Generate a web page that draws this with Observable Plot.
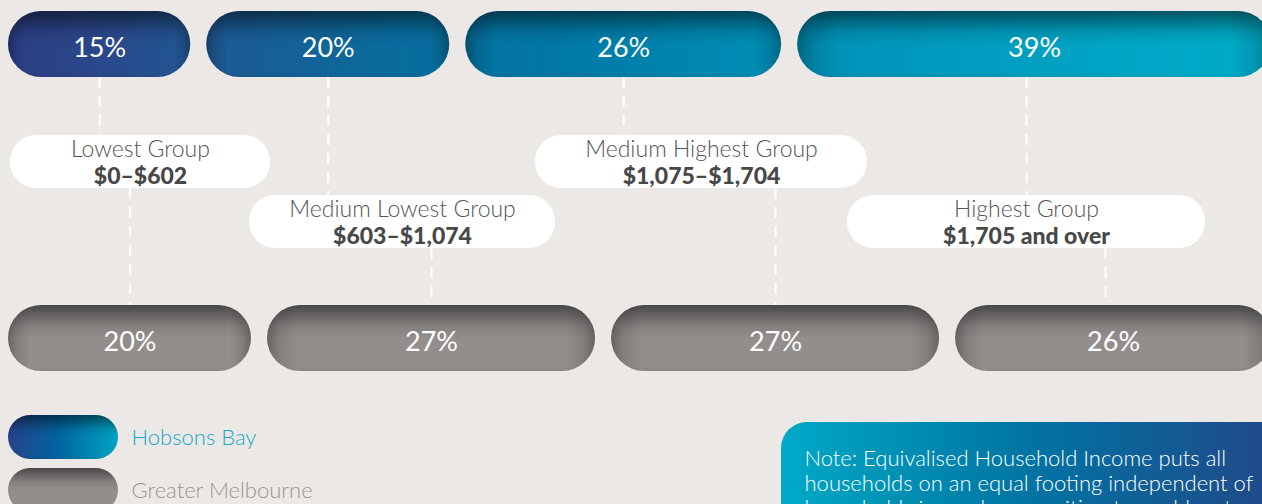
<!DOCTYPE html>
<html>
<head>
<meta charset="utf-8">
<script src="https://cdn.jsdelivr.net/npm/d3@7"></script>
<script src="https://cdn.jsdelivr.net/npm/@observablehq/plot@0.6"></script>
<style>
  html, body { margin: 0; padding: 0; background: #ece8e5; }
  #chart svg { display: block; }
</style>
</head>
<body>
<div id="chart"></div>
<script>
// ---- Data ----
const groups = ["Lowest Group", "Medium Lowest Group", "Medium Highest Group", "Highest Group"];
const ranges = ["$0–$602", "$603–$1,074", "$1,075–$1,704", "$1,705 and over"];
const hobsonsBay = [15, 20, 26, 39];
const greaterMelbourne = [20, 27, 27, 26];
const seriesNames = ["Hobsons Bay", "Greater Melbourne"];
const noteLines = [
  "Note: Equivalised Household Income puts all",
  "households on an equal footing independent of",
  "household size and composition to enable a true"
];

// ---- Layout (pixels) ----
const W = 1262, H = 504;
const PPU = 12.15;        // pixels per percentage point
const LEFT = 8;           // left start of rows
const GAP_PX = 16;        // gap between pills
const rowY = {top: [11, 77], bottom: [305, 371]};
const boxRowY = [[135, 188], [195, 248]];
const boxX = [[10, 270], [249, 555], [535, 867], [847, 1205]];
const u = px => (px - LEFT) / PPU;   // pixel -> x-scale units
const gapU = GAP_PX / PPU;
const connNudge = [0, 0, 0, -8];      // small connector offset (px) as in original

function rowData(values, series) {
  let cum = 0;
  return values.map((v, i) => {
    const x1 = cum + i * gapU;
    cum += v;
    return {series, group: groups[i], value: v, i, x1, x2: x1 + v};
  });
}
const topRow = rowData(hobsonsBay, seriesNames[0]);
const botRow = rowData(greaterMelbourne, seriesNames[1]);
const boxes = groups.map((g, i) => ({
  group: g, range: ranges[i], i,
  x1: u(boxX[i][0]), x2: u(boxX[i][1]),
  y1: boxRowY[i % 2][0], y2: boxRowY[i % 2][1]
}));
const mid = d => (d.x1 + d.x2) / 2;

const FONT = "Lato, 'Open Sans', sans-serif";

const plot = Plot.plot({
  width: W, height: H,
  margin: 0,
  x: {domain: [u(0), u(W)], range: [0, W], axis: null},
  y: {domain: [0, H], range: [0, H], axis: null},
  style: {background: "#ece8e5", fontFamily: FONT},
  marks: [
    // connectors: top pill -> box
    Plot.ruleX(boxes, {x: d => mid(topRow[d.i]) + connNudge[d.i] / PPU, y1: rowY.top[1], y2: d => d.y1,
      stroke: "white", strokeWidth: 2, strokeDasharray: "11,8"}),
    // connectors: box -> bottom pill
    Plot.ruleX(boxes, {x: d => mid(botRow[d.i]) + connNudge[d.i] / PPU, y1: d => d.y2, y2: rowY.bottom[0],
      stroke: "white", strokeWidth: 2, strokeDasharray: "11,8"}),
    // top pills
    Plot.rect(topRow, {x1: "x1", x2: "x2", y1: () => rowY.top[0], y2: () => rowY.top[1],
      rx: 33, fill: "url(#topGrad)"}),
    Plot.rect(topRow, {x1: "x1", x2: "x2", y1: () => rowY.top[0], y2: () => rowY.top[1],
      rx: 33, fill: "url(#shadeH)"}),
    Plot.rect(topRow, {x1: "x1", x2: "x2", y1: () => rowY.top[0], y2: () => rowY.top[1],
      rx: 33, fill: "url(#shadeV)"}),
    Plot.text(topRow, {x: mid, y: () => (rowY.top[0] + rowY.top[1]) / 2 + 4,
      text: d => d.value + "%", fill: "white", fontSize: 27, fontWeight: 400, fontFamily: FONT}),
    // bottom pills
    Plot.rect(botRow, {x1: "x1", x2: "x2", y1: () => rowY.bottom[0], y2: () => rowY.bottom[1],
      rx: 33, fill: "#928e8c"}),
    Plot.rect(botRow, {x1: "x1", x2: "x2", y1: () => rowY.bottom[0], y2: () => rowY.bottom[1],
      rx: 33, fill: "url(#shadeH)"}),
    Plot.rect(botRow, {x1: "x1", x2: "x2", y1: () => rowY.bottom[0], y2: () => rowY.bottom[1],
      rx: 33, fill: "url(#shadeV)"}),
    Plot.text(botRow, {x: mid, y: () => (rowY.bottom[0] + rowY.bottom[1]) / 2 + 4,
      text: d => d.value + "%", fill: "white", fontSize: 27, fontWeight: 400, fontFamily: FONT}),
    // label boxes
    Plot.rect(boxes, {x1: "x1", x2: "x2", y1: "y1", y2: "y2", rx: 26, fill: "white"}),
    Plot.text(boxes, {x: mid, y: d => d.y1 + 14, text: "group",
      fill: "#555555", fontSize: 23, fontWeight: 300, fontFamily: FONT}),
    Plot.text(boxes, {x: mid, y: d => d.y1 + 41, text: "range",
      fill: "#484848", fontSize: 23, fontWeight: 900, fontFamily: FONT}),
    // legend
    Plot.rect(seriesNames, {x1: () => u(8), x2: () => u(118),
      y1: (d, i) => 415 + i * 53, y2: (d, i) => 459 + i * 53, rx: 22,
      fill: (d, i) => i === 0 ? "url(#legGrad)" : "#928e8c"}),
    Plot.rect(seriesNames, {x1: () => u(8), x2: () => u(118),
      y1: (d, i) => 415 + i * 53, y2: (d, i) => 459 + i * 53, rx: 22, fill: "url(#shadeV)"}),
    Plot.text(seriesNames, {x: () => u(131), y: (d, i) => 437 + i * 53, text: d => d,
      textAnchor: "start", fill: (d, i) => i === 0 ? "#17a9c8" : "#9a9593",
      fontSize: 22, fontWeight: 300, fontFamily: FONT}),
    // note box
    Plot.rect([0], {x1: () => u(781), x2: () => u(1330), y1: () => 422, y2: () => 560,
      rx: 26, fill: "url(#noteGrad)"}),
    Plot.text(noteLines, {x: () => u(804), y: (d, i) => 458 + i * 25, text: d => d,
      textAnchor: "start", fill: "white", fontSize: 22, fontWeight: 300, fontFamily: FONT})
  ]
});

// gradients
const defs = d3.select(plot).insert("defs", ":first-child");
function lin(id, attrs, stops) {
  const g = defs.append("linearGradient").attr("id", id);
  Object.entries(attrs).forEach(([k, v]) => g.attr(k, v));
  stops.forEach(([o, c, op]) => g.append("stop").attr("offset", o).attr("stop-color", c)
    .attr("stop-opacity", op == null ? 1 : op));
}
lin("topGrad", {gradientUnits: "userSpaceOnUse", x1: 0, y1: 0, x2: W, y2: 0}, [
  [0, "#2c3c83"], [0.08, "#2a488b"], [0.16, "#1f5892"], [0.3, "#0a6a9c"],
  [0.45, "#0079a6"], [0.62, "#008fb6"], [0.8, "#009ec0"], [1, "#00adc9"]
]);
lin("legGrad", {x1: 0, y1: 0, x2: 1, y2: 0}, [
  [0, "#27428a"], [0.45, "#0064a0"], [1, "#00a4c3"]
]);
lin("noteGrad", {gradientUnits: "userSpaceOnUse", x1: 781, y1: 0, x2: W, y2: 0}, [
  [0, "#00a9c7"], [0.5, "#0075a4"], [1, "#1f4b8a"]
]);
lin("shadeV", {x1: 0, y1: 0, x2: 0, y2: 1}, [
  [0, "#000", 0.5], [0.12, "#000", 0.35], [0.32, "#000", 0.1], [0.5, "#000", 0],
  [0.93, "#000", 0], [1, "#000", 0.06]
]);
lin("shadeH", {x1: 0, y1: 0, x2: 1, y2: 0}, [
  [0, "#000", 0.3], [0.035, "#000", 0.12], [0.09, "#000", 0],
  [0.91, "#000", 0], [0.965, "#000", 0.12], [1, "#000", 0.3]
]);

document.getElementById("chart").appendChild(plot);
</script>
</body>
</html>
